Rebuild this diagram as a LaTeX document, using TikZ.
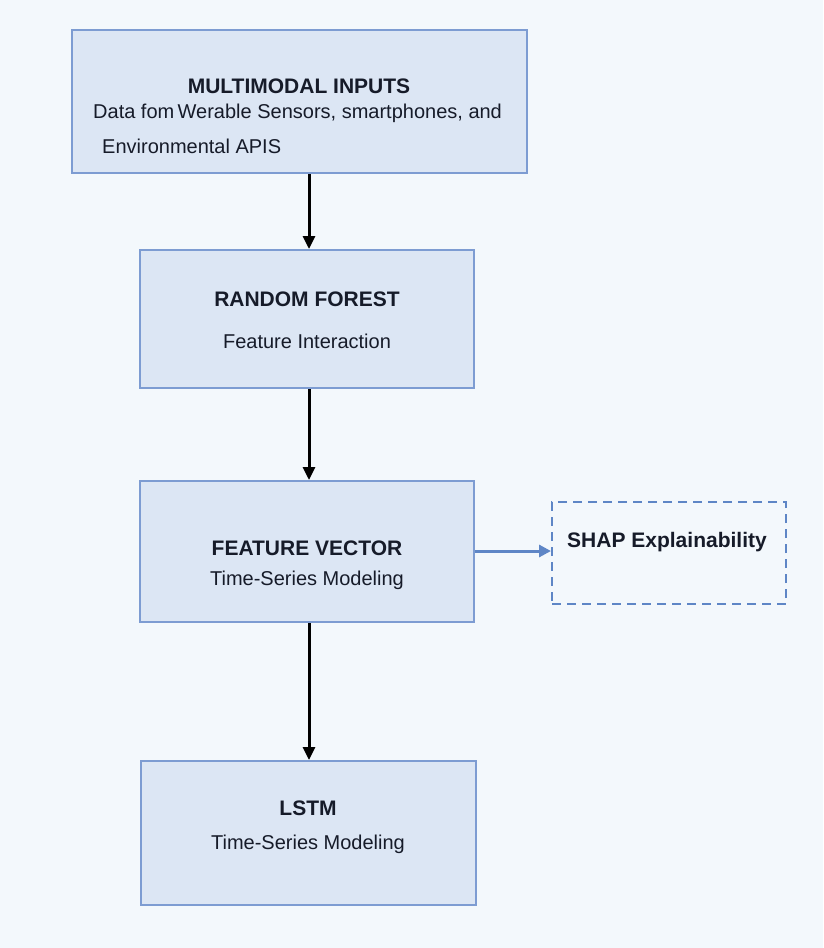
\documentclass[tikz,border=0pt]{standalone}
\usepackage{fontspec}
\setmainfont{Liberation Sans}
\usetikzlibrary{arrows.meta}
\definecolor{bgcol}{HTML}{F3F8FC}
\definecolor{boxfill}{HTML}{DCE6F4}
\definecolor{boxline}{HTML}{7D9CD2}
\definecolor{shapline}{HTML}{5E86C6}
\definecolor{txtcol}{HTML}{161B29}
\tikzset{
  stage/.style={draw=boxline,fill=boxfill,line width=2pt,inner sep=0pt},
  ttl/.style={font=\fontsize{21}{25}\selectfont\bfseries,text=txtcol,inner sep=0pt},
  sub/.style={font=\fontsize{20}{24}\selectfont,text=txtcol,inner sep=0pt},
  flow/.style={-{Triangle[length=13pt,width=12pt]},line width=3pt,black}
}
\begin{document}
\begin{tikzpicture}[x=1pt,y=-1pt]
  \fill[bgcol] (0,0) rectangle (823,948);
  \useasboundingbox (0,0) rectangle (823,948);
  % stage boxes
  \node[stage,minimum width=455,minimum height=143] (inputs) at (299.5,101.5) {};
  \node[stage,minimum width=334,minimum height=138] (forest) at (307,319) {};
  \node[stage,minimum width=334,minimum height=141] (vector) at (307,551.5) {};
  \node[stage,minimum width=335,minimum height=144] (lstm)   at (308.5,833) {};
  \node[draw=shapline,line width=2pt,minimum width=234,minimum height=102,
        dash pattern=on 9pt off 6pt] (shap) at (669,553) {};
  % texts
  \node[ttl] (inputsT) at (299,86) {MULTIMODAL INPUTS};
  \node[sub,anchor=west] (inputsA) at (93,113) {Data fom\,Werable Sensors, smartphones, and};
  \node[sub,anchor=west] (inputsB) at (102,146) {Environmental APIS};
  \node[ttl] (forestT) at (307,299) {RANDOM FOREST};
  \node[sub] (forestS) at (307,341) {Feature Interaction};
  \node[ttl] (vectorT) at (307,548) {FEATURE VECTOR};
  \node[sub] (vectorS) at (307,580) {Time-Series Modeling};
  \node[ttl] (lstmT) at (308,808) {LSTM};
  \node[sub] (lstmS) at (308,844) {Time-Series Modeling};
  \node[ttl] (shapT) at (667,542) {SHAP Explainability};
  % connectors
  \draw[flow] (inputs.south -| 309,0) -- (forest.north -| 309,0);
  \draw[flow] (forest.south -| 309,0) -- (vector.north -| 309,0);
  \draw[flow] (vector.south -| 309,0) -- (lstm.north -| 309,0);
  \draw[-{Triangle[length=12pt,width=12pt]},line width=3pt,shapline] (vector.east |- 0,551) -- (shap.west |- 0,551);
\end{tikzpicture}
\end{document}
